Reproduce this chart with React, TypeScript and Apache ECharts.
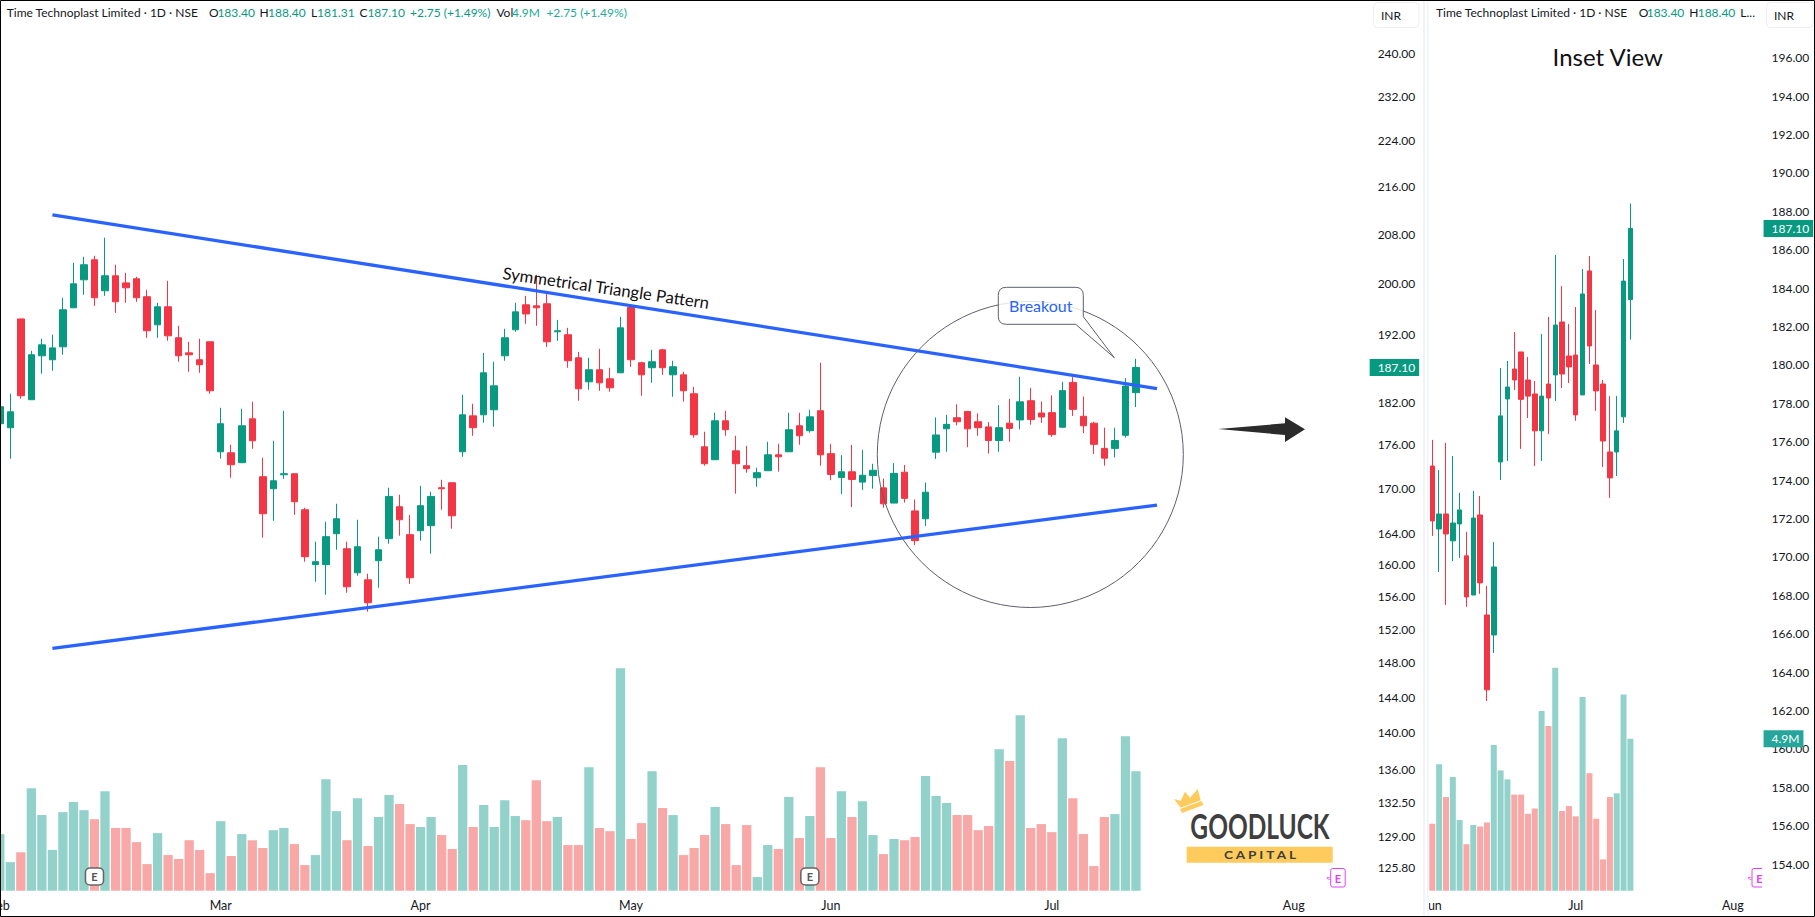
import React, { useEffect, useRef } from "react";
import * as echarts from "echarts";

const FONT = 'Lato, "Noto Sans", sans-serif';
const TEAL = "#089981";
const RED = "#f23645";
const TEAL_VOL = "#92d2cb";
const RED_VOL = "#f7a8a7";
const BLUE = "#2962ff";
const INK = "#131722";

const opens = [178.93,178.36,194.45,182.37,188.84,188.25,190.19,196.17,200.58,203.79,198.84,201.22,200.09,200.74,197.9,193.54,196.33,191.56,189.28,188.25,190.95,174.99,174.85,173.48,179.63,171.56,169.93,171.83,171.97,167.12,160.0,160.0,163.97,162.03,158.97,158.08,160.5,163.33,167.52,163.85,164.37,165.02,170.07,170.74,174.99,180.05,180.2,180.92,188.84,192.78,196.64,196.48,196.8,192.47,192.02,188.54,184.98,186.76,185.42,186.31,196.22,187.8,187.06,189.73,186.01,186.01,183.24,175.68,173.89,179.35,175.12,173.07,171.42,172.38,174.57,174.99,178.64,177.94,180.78,174.73,171.45,172.23,170.83,171.71,170.05,168.01,172.18,166.97,165.93,174.94,178.22,179.78,180.67,179.21,178.48,176.56,179.0,179.47,182.23,180.46,180.51,178.43,184.89,179.99,179.0,175.46,175.46,177.29,183.4];
const closes = [181.36,180.63,182.95,188.99,190.49,190.03,195.86,199.94,202.99,197.74,201.22,197.11,199.31,197.74,192.63,196.33,191.86,188.84,188.99,187.5,183.67,178.93,173.2,178.64,176.53,166.59,171.01,171.97,168.19,161.01,160.37,163.59,165.93,157.21,162.29,155.23,161.9,168.9,165.8,158.34,167.66,168.9,169.93,166.32,180.2,178.36,186.31,184.39,191.56,195.54,195.22,196.17,190.95,192.63,188.1,183.96,186.76,184.83,184.1,193.08,188.25,186.01,187.95,187.06,187.2,183.67,177.37,173.34,179.35,178.08,173.34,172.66,172.11,174.57,174.3,178.08,177.23,179.91,174.57,171.87,172.23,171.19,171.76,172.44,167.91,172.02,168.64,163.07,169.47,177.34,178.84,179.21,178.2,178.37,176.56,178.37,178.27,182.07,179.52,179.89,177.39,183.69,180.98,178.64,176.03,174.11,176.56,184.36,187.1];
const lows = [178.2,174.03,182.51,182.37,186.17,186.61,188.99,196.17,198.21,196.48,198.05,195.38,196.95,197.11,191.56,191.56,191.1,187.95,186.46,186.31,183.24,174.03,171.42,173.48,175.4,163.46,165.67,171.28,166.45,160.37,157.83,156.22,161.9,156.47,158.59,154.13,157.08,162.68,163.72,157.58,163.07,161.39,167.12,164.63,174.3,177.23,179.07,178.5,188.1,192.47,193.69,193.39,190.19,191.1,187.06,182.23,183.82,183.67,183.53,186.31,187.2,182.95,184.83,186.01,182.8,182.08,176.95,173.07,173.89,177.23,169.26,172.11,170.2,172.38,172.25,174.99,175.97,177.66,173.07,171.09,169.21,167.49,169.78,169.94,167.39,168.01,168.07,162.49,164.99,174.0,174.99,178.69,175.62,177.23,174.73,174.99,176.4,178.12,178.79,179.05,177.08,178.43,180.04,177.6,174.68,173.07,174.21,176.97,181.31];
const highs = [182.5,183.24,194.45,189.58,191.41,192.02,197.74,203.31,204.27,204.44,207.4,202.99,201.7,201.06,199.0,196.95,200.42,193.39,190.95,191.41,190.95,181.21,175.97,181.07,182.08,174.16,176.53,180.78,171.97,167.39,162.94,165.54,167.92,162.94,165.8,158.85,163.59,170.07,169.13,166.45,170.33,169.53,171.15,170.74,183.09,181.79,189.28,187.95,192.93,196.95,198.05,201.38,198.37,194.3,193.08,189.43,188.54,189.88,187.06,194.76,196.22,187.95,189.73,189.88,188.1,186.46,184.25,177.8,180.49,180.78,177.23,175.82,172.79,176.39,176.11,180.49,180.49,180.92,187.8,176.09,174.52,175.93,175.25,173.33,171.3,173.43,173.17,168.48,170.77,179.83,180.2,181.71,180.67,180.41,179.16,181.6,182.49,185.72,184.1,182.13,183.01,184.99,185.67,182.85,179.21,178.37,178.37,185.51,188.4];
const volumesM = [2.32,1.17,1.58,4.2,3.1,1.67,3.22,3.63,3.3,2.93,4.08,2.57,2.57,1.99,1.09,2.36,1.46,1.3,2.07,1.67,0.72,2.85,1.42,2.32,2.07,1.75,2.48,2.57,1.91,1.05,1.46,4.57,3.26,2.07,3.79,1.83,3.02,3.92,3.55,2.73,2.61,3.02,2.28,1.71,5.15,2.61,3.51,2.61,3.71,3.06,2.89,4.53,2.85,3.02,1.87,1.87,5.06,2.57,2.44,9.12,2.12,2.77,4.9,3.39,3.1,1.46,1.75,2.28,3.43,2.73,1.05,2.69,0.56,1.87,1.71,3.84,2.16,3.06,5.06,2.16,4.08,3.02,3.67,2.28,1.5,2.12,2.07,2.2,4.7,3.88,3.59,3.1,3.1,2.48,2.65,5.8,5.31,7.19,2.57,2.73,2.4,6.25,3.79,2.32,1.01,3.02,3.14,6.33,4.9];

const mainPriceTicks = [240,232,224,216,208,200,192,182,176,170,164,160,156,152,148,144,140,136,132.5,129,125.8];
const insetPriceTicks = [196,194,192,190,188,186,184,182,180,178,176,174,172,170,168,166,164,162,160,158,156,154];
const monthLabels = ["Feb","Mar","Apr","May","Jun","Jul","Aug"];
const monthIndices = [0,21,40,60,79,100,123];
const earningsIndices = [9,77];
const lastClose = 187.1;
const lastVolumeM = 4.9;
const upperTrend = [[5,211.2],[110,184.0]];
const lowerTrend = [[5,149.7],[110,167.75]];

const INSET_START = 79;
const MAIN_SLOTS = 131;
const INSET_SLOTS = 49;

const calloutD = "M1006.3 287.3H1075.3Q1083.3 287.3 1083.3 295.3V316.7L1114.3 357.7L1075.7 324.3H1006.3Q998.3 324.3 998.3 316.3V295.3Q998.3 287.3 1006.3 287.3Z";
echarts.graphic.registerShape("callout", echarts.graphic.extendPath(calloutD, {}));

const legendMain: [string, number, string][] = [
  ["Time Technoplast Limited · 1D · NSE", 6.7, INK],
  ["O", 209, INK], ["183.40", 217.4, TEAL],
  ["H", 259.4, INK], ["188.40", 268, TEAL],
  ["L", 311, INK], ["181.31", 317, TEAL],
  ["C", 359.4, INK], ["187.10", 367.4, TEAL],
  ["+2.75 (+1.49%)", 410, TEAL],
  ["Vol", 496.4, INK], ["4.9M", 512, "#22ab94"],
  ["+2.75 (+1.49%)", 546.4, "#22ab94"],
];
const legendInset: [string, number, string][] = [
  ["Time Technoplast Limited · 1D · NSE", 1436, INK],
  ["O", 1638.7, INK], ["183.40", 1646.7, TEAL],
  ["H", 1689.3, INK], ["188.40", 1697.7, TEAL],
  ["L...", 1740.3, INK],
];

const crownZoom = [[42,72],[62,78],[75,50],[90,68],[113,42],[122,76],[62,98]];
const crownStripZoom = [[125,78],[130,90],[66,114],[60,102]];
const toLogo = (p: number[]) => [1160 + p[0] / 3, 775 + p[1] / 3];

const label = (text: string, x: number, y: number, o: any = {}) => ({
  type: "text", x, y, silent: true, z: o.z ?? 50,
  scaleX: o.scaleX ?? 1, rotation: o.rotation ?? 0,
  style: {
    text, fill: o.fill ?? INK, font: `${o.weight ?? "normal"} ${o.size ?? 12}px ${FONT}`,
    align: o.align ?? "left", verticalAlign: "middle",
  },
});

function buildOption() {
  const candle = (i: number, fn: (v: number) => number) =>
    [fn(opens[i]), fn(closes[i]), fn(lows[i]), fn(highs[i])];
  const mainCandles = opens.map((_, i) => candle(i, Math.log));
  const insetIdx = opens.map((_, i) => i).slice(INSET_START);
  const insetCandles = insetIdx.map((i) => candle(i, (v) => v));
  const volItem = (i: number) => ({
    value: volumesM[i],
    itemStyle: { color: closes[i] >= opens[i] ? TEAL_VOL : RED_VOL },
  });

  const xAxisFor = (gridIndex: number, offset: number, slots: number) => ({
    type: "category", gridIndex,
    data: Array.from({ length: slots }, (_, i) => String(i + offset)),
    axisLine: { show: false }, axisTick: { show: false }, splitLine: { show: false },
    axisLabel: {
      margin: 8, color: INK, fontFamily: FONT, fontSize: 12.5,
      interval: (i: number) => monthIndices.includes(i + offset),
      formatter: (v: string) => monthLabels[monthIndices.indexOf(Number(v))] ?? "",
    },
  });

  const axisBase = { type: "value", position: "right", axisLine: { show: false }, axisTick: { show: false }, splitLine: { show: false }, scale: true };
  const tagLabel = (margin: number, color: string) => ({
    margin, color: "#fff", fontFamily: FONT, fontSize: 12, backgroundColor: color,
    lineHeight: 13, padding: [2, 4, 2, 8],
  });

  const elements: any[] = [
    { type: "rect", silent: true, z: 40, shape: { x: 1419.5, y: 0, width: 9.5, height: 917 }, style: { fill: "#fff" } },
    { type: "rect", silent: true, z: 41, shape: { x: 1423, y: 0, width: 2, height: 917 }, style: { fill: "#f0f3fa" } },
    { type: "rect", silent: true, z: 41, shape: { x: 1427, y: 0, width: 1.5, height: 917 }, style: { fill: "#f0f3fa" } },
    { type: "circle", silent: true, z: 45, shape: { cx: 1030.3, cy: 454.5, r: 153 }, style: { fill: "none", stroke: "#5d606b", lineWidth: 1 } },
    { type: "callout", silent: true, z: 46, x: 0, y: 0, style: { fill: "rgba(255,255,255,0.82)", stroke: "#5d606b", lineWidth: 1 } },
    label("Breakout", 1040.7, 305.7, { fill: BLUE, size: 16, align: "center" }),
    label("Symmetrical Triangle Pattern", 606, 288, { size: 16.7, align: "center", rotation: (-8.3 * Math.PI) / 180, fill: "#111" }),
    { type: "polygon", silent: true, z: 46, shape: { points: [[1218.3,429],[1285,423.3],[1285,417.3],[1305,429.3],[1285,442],[1285,435]] }, style: { fill: "#2b2b2b" } },
    label("Inset View", 1607.7, 56.7, { size: 24, align: "center", fill: "#111" }),
    { type: "rect", silent: true, z: 45, shape: { x: 1373.5, y: 2.5, width: 45.5, height: 25, r: 4 }, style: { fill: "#fff", stroke: "#eceef2", lineWidth: 1 } },
    label("INR", 1391, 15.3, { align: "center" }),
    { type: "rect", silent: true, z: 45, shape: { x: 1766.5, y: 2.5, width: 46.5, height: 25, r: 4 }, style: { fill: "#fff", stroke: "#eceef2", lineWidth: 1 } },
    label("INR", 1784, 15.3, { align: "center" }),
    { type: "polygon", silent: true, z: 46, shape: { points: crownZoom.map(toLogo) }, style: { fill: "#ffcb5c" } },
    { type: "polygon", silent: true, z: 46, shape: { points: crownStripZoom.map(toLogo) }, style: { fill: "#ffcb5c" } },
    label("GOODLUCK", 1260, 826, { size: 34, weight: "bold", align: "center", fill: "#3f3f3f", scaleX: 0.72 }),
    { type: "rect", silent: true, z: 46, shape: { x: 1186.7, y: 846.7, width: 146, height: 16 }, style: { fill: "#ffcb5c" } },
    label("C A P I T A L", 1260, 854.7, { size: 11.5, weight: "bold", align: "center", fill: "#3f3f3f", scaleX: 1.18 }),
    { type: "rect", silent: true, z: 60, shape: { x: 0.5, y: 0.5, width: 1814, height: 916 }, style: { fill: "none", stroke: "#000", lineWidth: 1 } },
  ];
  [1330.7, 1752].forEach((x) => {
    elements.push(
      { type: "rect", silent: true, z: 46, shape: { x, y: 868.5, width: 14.5, height: 18.5, r: 2 }, style: { fill: "#fff", stroke: "#e040fb", lineWidth: 1 } },
      label("E", x + 7.3, 878, { fill: "#e040fb", size: 11, weight: "bold", align: "center" }),
      label("≈", x - 5, 878, { fill: "#e040fb", size: 9, align: "left" }),
    );
  });
  elements.push({ type: "rect", silent: true, z: 47, shape: { x: 1762, y: 864, width: 5, height: 26 }, style: { fill: "#fff" } });
  legendMain.forEach(([t, x, c]) => elements.push(label(t, x, 12.7, { fill: c })));
  legendInset.forEach(([t, x, c]) => elements.push(label(t, x, 12.7, { fill: c, z: 50 })));

  return {
    animation: false,
    backgroundColor: "#fff",
    grid: [
      { left: -5.46, top: 0, width: 131 * 10.52, height: 890.7, outerBoundsMode: "none" },
      { left: 1428.9, top: 0, width: 49 * 6.83, height: 890.7, outerBoundsMode: "none" },
    ],
    xAxis: [xAxisFor(0, 0, MAIN_SLOTS), xAxisFor(1, INSET_START, INSET_SLOTS)],
    yAxis: [
      { ...axisBase, gridIndex: 0, min: Math.log(123.52), max: Math.log(250.45),
        axisLabel: { margin: 5, color: INK, fontFamily: FONT, fontSize: 12, customValues: mainPriceTicks.map(Math.log), formatter: (v: number) => Math.exp(v).toFixed(2) } },
      { ...axisBase, gridIndex: 0, min: 0, max: 36.5, axisLabel: { show: false } },
      { ...axisBase, gridIndex: 0, min: Math.log(123.52), max: Math.log(250.45),
        axisLabel: { ...tagLabel(-3, TEAL), customValues: [Math.log(lastClose)], formatter: (v: number) => Math.exp(v).toFixed(2) } },
      { ...axisBase, gridIndex: 1, min: 152.61, max: 199,
        axisLabel: { margin: 8, color: INK, fontFamily: FONT, fontSize: 12, customValues: insetPriceTicks, formatter: (v: number) => v.toFixed(2) } },
      { ...axisBase, gridIndex: 1, min: 0, max: 28.73,
        axisLabel: { ...tagLabel(0, "#26a69a"), customValues: [lastVolumeM], formatter: (v: number) => v.toFixed(1) + "M" } },
      { ...axisBase, gridIndex: 1, min: 152.61, max: 199,
        axisLabel: { ...tagLabel(0, TEAL), customValues: [lastClose], formatter: (v: number) => v.toFixed(2) } },
    ],
    series: [
      { type: "bar", xAxisIndex: 0, yAxisIndex: 1, barWidth: 9.3, data: volumesM.map((_, i) => volItem(i)) },
      { type: "candlestick", xAxisIndex: 0, yAxisIndex: 0, barWidth: 7, data: mainCandles,
        itemStyle: { color: TEAL, color0: RED, borderColor: TEAL, borderColor0: RED, borderWidth: 1 } },
      { type: "line", xAxisIndex: 0, yAxisIndex: 0, showSymbol: false, lineStyle: { color: BLUE, width: 3.3 },
        data: upperTrend.map(([i, p]) => [i, Math.log(p)]) },
      { type: "line", xAxisIndex: 0, yAxisIndex: 0, showSymbol: false, lineStyle: { color: BLUE, width: 3.3 },
        data: lowerTrend.map(([i, p]) => [i, Math.log(p)]) },
      { type: "scatter", xAxisIndex: 0, yAxisIndex: 1, symbol: "roundRect", symbolSize: [18, 17], z: 5,
        itemStyle: { color: "#fff", borderColor: "#666", borderWidth: 1.5, opacity: 1 },
        label: { show: true, position: "inside", formatter: "E", color: "#555", fontFamily: FONT, fontSize: 11, fontWeight: "bold" },
        data: earningsIndices.map((i) => [i, 0.58]) },
      { type: "bar", xAxisIndex: 1, yAxisIndex: 4, barWidth: 6, data: insetIdx.map(volItem) },
      { type: "candlestick", xAxisIndex: 1, yAxisIndex: 3, barWidth: 5, data: insetCandles,
        itemStyle: { color: TEAL, color0: RED, borderColor: TEAL, borderColor0: RED, borderWidth: 1 } },
    ],
    graphic: { elements },
  };
}

export default function App() {
  const ref = useRef<HTMLDivElement>(null);
  useEffect(() => {
    const chart = echarts.init(ref.current!, null, { renderer: "svg" });
    chart.setOption(buildOption() as any);
    return () => chart.dispose();
  }, []);
  return <div ref={ref} style={{ position: "absolute", left: 0, top: 0, width: 1815, height: 917 }} />;
}
